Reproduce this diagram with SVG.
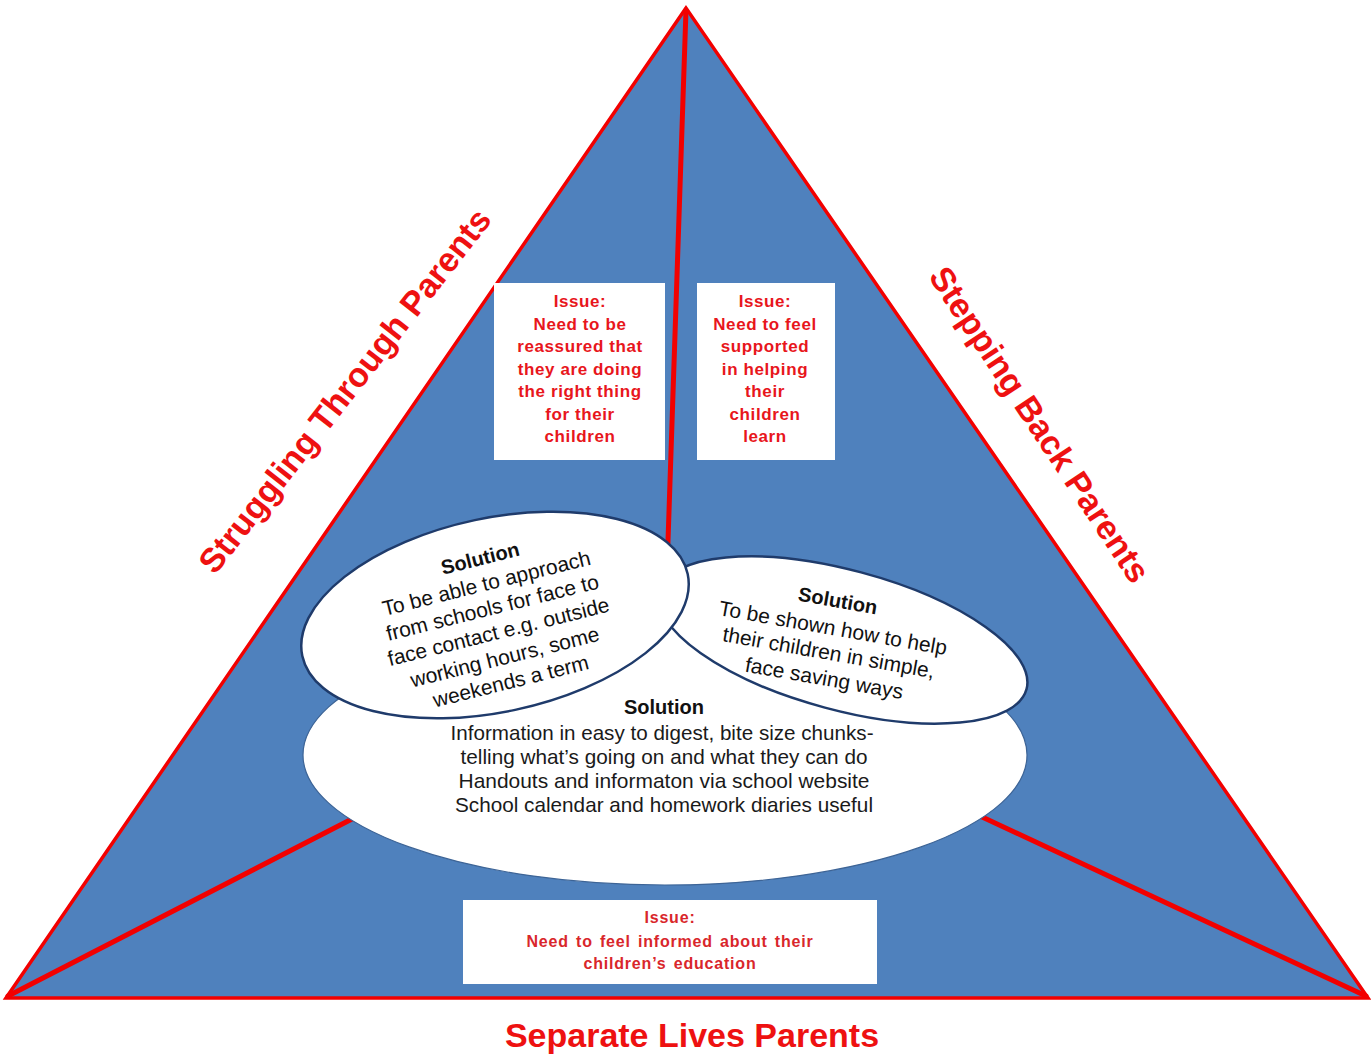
<svg xmlns="http://www.w3.org/2000/svg" width="1371" height="1057" viewBox="0 0 1371 1057">
<style>
.tri{fill:#4f81bd;stroke:#f20000;stroke-width:3.5;stroke-linejoin:miter}
.conn{stroke:#f20000;stroke-width:5;stroke-linecap:round;fill:none}
.ell{fill:#ffffff;stroke:#1f3b6b;stroke-width:2.5}
.bigell{fill:#ffffff;stroke:#3d6496;stroke-width:1.2}
.box{fill:#ffffff}
.issue{font-family:"Liberation Sans",Arial,sans-serif;font-weight:bold;font-size:17px;fill:#e8161c;text-anchor:middle;letter-spacing:0.6px}
.issue2{font-family:"Liberation Sans",Arial,sans-serif;font-weight:bold;font-size:16px;fill:#d9262b;text-anchor:middle;letter-spacing:0.8px;word-spacing:2px}
.side{font-family:"Liberation Sans",Arial,sans-serif;font-weight:bold;font-size:34px;fill:#ee1111;text-anchor:middle}
.sol{font-family:"Liberation Sans",Arial,sans-serif;font-size:21px;fill:#111111;text-anchor:middle}
.solh{font-family:"Liberation Sans",Arial,sans-serif;font-size:20px;font-weight:bold;fill:#111111;text-anchor:middle}
.big{font-family:"Liberation Sans",Arial,sans-serif;font-size:21px;fill:#1a1a1a;text-anchor:middle}
</style>

<g id="triangle">
  <polygon class="tri" points="686,8 6,998 1368,998"/>
</g>

<g id="connectors">
  <line class="conn" x1="686" y1="10" x2="666" y2="600"/>
  <line class="conn" x1="8" y1="996" x2="420" y2="784"/>
  <line class="conn" x1="1366" y1="996" x2="920" y2="788"/>
</g>

<g id="label-struggling">
  <text class="side" transform="translate(354,398) rotate(-52)">Struggling Through Parents</text>
</g>
<g id="label-stepping">
  <text class="side" transform="translate(1030,431) rotate(56.5)">Stepping Back Parents</text>
</g>
<g id="label-separate">
  <text class="side" x="692" y="1047">Separate Lives Parents</text>
</g>

<g id="issue-reassured">
  <rect class="box" x="494" y="283" width="171" height="177"/>
  <text class="issue" x="580" y="307">Issue:</text>
  <text class="issue" x="580" y="329.5">Need to be</text>
  <text class="issue" x="580" y="352">reassured that</text>
  <text class="issue" x="580" y="374.5">they are doing</text>
  <text class="issue" x="580" y="397">the right thing</text>
  <text class="issue" x="580" y="419.5">for their</text>
  <text class="issue" x="580" y="442">children</text>
</g>

<g id="issue-supported">
  <rect class="box" x="697" y="283" width="138" height="177"/>
  <text class="issue" x="765" y="307">Issue:</text>
  <text class="issue" x="765" y="329.5">Need to feel</text>
  <text class="issue" x="765" y="352">supported</text>
  <text class="issue" x="765" y="374.5">in helping</text>
  <text class="issue" x="765" y="397">their</text>
  <text class="issue" x="765" y="419.5">children</text>
  <text class="issue" x="765" y="442">learn</text>
</g>

<g id="issue-informed">
  <rect class="box" x="463" y="900" width="414" height="84"/>
  <text class="issue2" x="670" y="923">Issue:</text>
  <text class="issue2" x="670" y="947">Need to feel informed about  their</text>
  <text class="issue2" x="670" y="969">children’s education</text>
</g>

<g id="solution-information">
  <ellipse class="bigell" cx="665" cy="755" rx="362" ry="130"/>
  <text class="solh" x="664" y="714">Solution</text>
  <text class="big" x="662" y="740" textLength="423" lengthAdjust="spacingAndGlyphs">Information in easy to digest, bite size chunks-</text>
  <text class="big" x="664" y="764" textLength="407" lengthAdjust="spacingAndGlyphs">telling what’s going on and what they can do</text>
  <text class="big" x="664" y="788" textLength="411" lengthAdjust="spacingAndGlyphs">Handouts and informaton via school website</text>
  <text class="big" x="664" y="812" textLength="418" lengthAdjust="spacingAndGlyphs">School calendar and homework diaries useful</text>
</g>

<g id="solution-shown">
  <ellipse class="ell" cx="843" cy="640" rx="190" ry="70" transform="rotate(15 843 640)"/>
  <g transform="translate(831,640) rotate(10)">
    <text class="solh" x="0" y="-33">Solution</text>
    <text class="sol" x="0" y="-5">To be shown how to help</text>
    <text class="sol" x="0" y="20">their children in simple,</text>
    <text class="sol" x="0" y="46">face saving ways</text>
  </g>
</g>

<g id="solution-approach">
  <ellipse class="ell" cx="495" cy="615" rx="197" ry="97" transform="rotate(-12 495 615)"/>
  <g transform="translate(498,630) rotate(-14)">
    <text class="solh" x="0" y="-67">Solution</text>
    <text class="sol" x="0" y="-41">To be able to  approach</text>
    <text class="sol" x="0" y="-16">from  schools for face to</text>
    <text class="sol" x="0" y="9">face  contact e.g. outside</text>
    <text class="sol" x="0" y="35">working hours, some</text>
    <text class="sol" x="0" y="60">weekends a term</text>
  </g>
</g>
</svg>
